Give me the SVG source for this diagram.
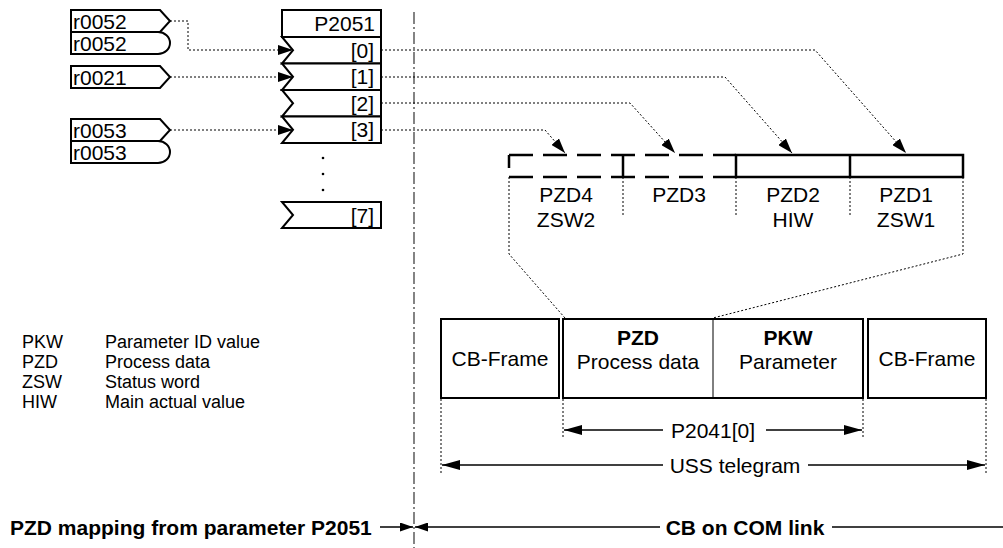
<svg xmlns="http://www.w3.org/2000/svg" width="1003" height="548" viewBox="0 0 1003 548">
<style>
text{font-family:"Liberation Sans",Arial,sans-serif;font-size:21px;fill:#000}
.b{font-weight:bold}
.m{text-anchor:middle}
.e{text-anchor:end}
.lg{font-size:18px}
.box{fill:#fff;stroke:#000;stroke-width:2}
.thin{fill:none;stroke:#000;stroke-width:1}
.dot{fill:none;stroke:#000;stroke-width:1;stroke-dasharray:2,2}
.dash{fill:none;stroke:#000;stroke-width:2.5;stroke-dasharray:24,10}
.dim{fill:none;stroke:#000;stroke-width:1.5}
.axis{fill:none;stroke:#333;stroke-width:1.2;stroke-dasharray:12,3,2,3}
</style>
<defs>
<marker id="ah" viewBox="0 0 15 10" refX="15" refY="5" markerWidth="15" markerHeight="10" markerUnits="userSpaceOnUse" orient="auto"><path d="M0,0 L15,5 L0,10 Z" fill="#000"/></marker>
<marker id="dh" viewBox="0 0 18 10" refX="18" refY="5" markerWidth="18" markerHeight="10" markerUnits="userSpaceOnUse" orient="auto-start-reverse"><path d="M0,0 L18,5 L0,10 Z" fill="#000"/></marker>
<marker id="sh" viewBox="0 0 13 9" refX="13" refY="4.5" markerWidth="13" markerHeight="9" markerUnits="userSpaceOnUse" orient="auto-start-reverse"><path d="M0,0 L13,4.5 L0,9 Z" fill="#000"/></marker>
</defs>

<line class="axis" x1="414" y1="12" x2="414" y2="548"/>

<g id="src-r0052a"><path class="box" d="M71,10 H160 L170,21 L160,32 H71 Z"/><text x="73" y="28.5">r0052</text></g>
<g id="src-r0052b"><path class="box" d="M71,32 H158 A12,11 0 0 1 158,54 H71 Z"/><text x="73" y="50.5">r0052</text></g>
<g id="src-r0021"><path class="box" d="M71,66 H160 L170,77 L160,88 H71 Z"/><text x="73" y="84.5">r0021</text></g>
<g id="src-r0053a"><path class="box" d="M71,119 H160 L170,130 L160,141 H71 Z"/><text x="73" y="137.5">r0053</text></g>
<g id="src-r0053b"><path class="box" d="M71,141 H158 A12,11 0 0 1 158,163 H71 Z"/><text x="73" y="159.5">r0053</text></g>

<g id="p2051">
<rect class="box" x="282" y="10" width="99" height="27"/>
<text class="e" x="375" y="31">P2051</text>
<path class="box" d="M282,37 H381 V63.5 H282 L293,50.25 Z"/>
<text class="e" x="374" y="57.5">[0]</text>
<path class="box" d="M282,63.5 H381 V90 H282 L293,76.75 Z"/>
<text class="e" x="374" y="84">[1]</text>
<path class="box" d="M282,90 H381 V116.5 H282 L293,103.25 Z"/>
<text class="e" x="374" y="110.5">[2]</text>
<path class="box" d="M282,116.5 H381 V143 H282 L293,129.75 Z"/>
<text class="e" x="374" y="137">[3]</text>
<circle cx="323" cy="158" r="1.3"/><circle cx="323" cy="174" r="1.3"/><circle cx="323" cy="190" r="1.3"/>
<path class="box" d="M282,202 H381 V228 H282 L293,215 Z"/>
<text class="e" x="374" y="222.5">[7]</text>
</g>

<g id="pzd-words">
<path class="dash" d="M509,155 H736 M509,177 H736"/>
<path d="M509,155 V168 M623,155 V177" stroke="#000" stroke-width="2.5" fill="none"/>
<rect x="736" y="155" width="227" height="22" fill="none" stroke="#000" stroke-width="2.5"/>
<line x1="850" y1="155" x2="850" y2="177" stroke="#000" stroke-width="2.5"/>
<text class="m" x="566" y="202">PZD4</text><text class="m" x="566" y="227">ZSW2</text>
<text class="m" x="679" y="202">PZD3</text>
<text class="m" x="793" y="202">PZD2</text><text class="m" x="793" y="227">HIW</text>
<text class="m" x="906" y="202">PZD1</text><text class="m" x="906" y="227">ZSW1</text>
</g>

<g id="telegram">
<rect class="box" x="441" y="319" width="118" height="79"/>
<text class="m" x="500" y="366">CB-Frame</text>
<rect class="box" x="563" y="319" width="300" height="79"/>
<line class="thin" x1="713" y1="319" x2="713" y2="398"/>
<text class="m b" x="638" y="345">PZD</text>
<text class="m" x="638" y="369">Process data</text>
<text class="m b" x="788" y="345">PKW</text>
<text class="m" x="788" y="369">Parameter</text>
<rect class="box" x="868" y="319" width="118" height="79"/>
<text class="m" x="927" y="366">CB-Frame</text>
</g>

<g id="legend" class="lg">
<text class="lg" x="22" y="348">PKW</text><text class="lg" x="105" y="348">Parameter ID value</text>
<text class="lg" x="22" y="368">PZD</text><text class="lg" x="105" y="368">Process data</text>
<text class="lg" x="22" y="388">ZSW</text><text class="lg" x="105" y="388">Status word</text>
<text class="lg" x="22" y="408">HIW</text><text class="lg" x="105" y="408">Main actual value</text>
</g>

<g id="connectors">
<path class="dot" d="M170,21 H188 V50 H293" marker-end="url(#ah)"/>
<path class="dot" d="M170,77 H293" marker-end="url(#ah)"/>
<path class="dot" d="M170,130 H293" marker-end="url(#ah)"/>
<path class="dot" d="M381,50 H815 L906,153" marker-end="url(#ah)"/>
<path class="dot" d="M381,77 H725 L792,153" marker-end="url(#ah)"/>
<path class="dot" d="M381,103 H630 L675,153" marker-end="url(#ah)"/>
<path class="dot" d="M381,130 H545 L565,153" marker-end="url(#ah)"/>
<path class="dot" d="M623,177 V215 M736,177 V215 M850,177 V215"/>
<path class="dot" d="M509,177 V254 L565,318"/>
<path class="dot" d="M963,177 V254 L713,318"/>
<path class="dot" d="M563,399 V438 M863,399 V438 M441,399 V473 M986,399 V473"/>
</g>

<g id="dimensions">
<path class="dim" d="M663,430 H564" marker-end="url(#dh)"/>
<path class="dim" d="M766,430 H862" marker-end="url(#dh)"/>
<text class="m" x="713" y="437.5">P2041[0]</text>
<path class="dim" d="M663,465 H442" marker-end="url(#dh)"/>
<path class="dim" d="M808,465 H985" marker-end="url(#dh)"/>
<text class="m" x="735" y="472.5">USS telegram</text>
<path class="dim" d="M380,527 H413" marker-end="url(#sh)"/>
<path class="dim" d="M660,527 H415" marker-end="url(#sh)"/>
<path class="dim" d="M832,527 H1003"/>
<text class="b" x="10" y="534.5">PZD mapping from parameter P2051</text>
<text class="b m" x="745" y="534.5">CB on COM link</text>
</g>
</svg>
